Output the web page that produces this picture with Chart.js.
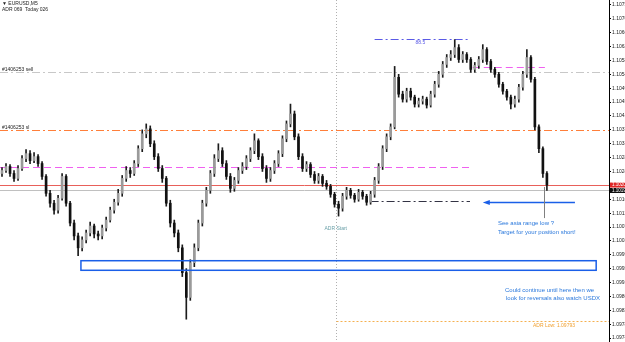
<!DOCTYPE html>
<html><head><meta charset="utf-8">
<script src="https://cdn.jsdelivr.net/npm/chart.js@4/dist/chart.umd.min.js"></script>
<style>html,body{margin:0;padding:0;background:#fff;}#wrap{width:625px;height:342px;}</style>
</head><body><div id="wrap"><canvas id="c" width="625" height="342"></canvas></div>
<script>
const opens=[1.10240,1.10249,1.10261,1.10240,1.10225,1.10255,1.10285,1.10300,1.10279,1.10291,
1.10270,1.10231,1.10180,1.10150,1.10129,1.10165,1.10231,1.10150,1.10090,1.10051,
1.10015,1.10039,1.10060,1.10081,1.10057,1.10051,1.10075,1.10099,1.10129,1.10153,
1.10180,1.10225,1.10249,1.10240,1.10270,1.10315,1.10360,1.10375,1.10330,1.10291,
1.10255,1.10225,1.10150,1.10090,1.10060,1.10015,1.09940,1.09865,1.09970,1.10015,
1.10090,1.10150,1.10189,1.10240,1.10285,1.10309,1.10270,1.10231,1.10195,1.10219,
1.10249,1.10261,1.10285,1.10309,1.10339,1.10291,1.10255,1.10225,1.10249,1.10270,
1.10300,1.10345,1.10390,1.10420,1.10351,1.10291,1.10255,1.10267,1.10237,1.10219,
1.10231,1.10210,1.10201,1.10177,1.10147,1.10135,1.10171,1.10189,1.10174,1.10162,
1.10183,1.10171,1.10153,1.10177,1.10219,1.10261,1.10315,1.10351,1.10381,1.10531,
1.10480,1.10465,1.10489,1.10471,1.10450,1.10459,1.10465,1.10447,1.10480,1.10510,
1.10540,1.10570,1.10591,1.10600,1.10621,1.10585,1.10600,1.10585,1.10555,1.10567,
1.10585,1.10615,1.10579,1.10555,1.10540,1.10510,1.10489,1.10471,1.10450,1.10465,
1.10501,1.10540,1.10591,1.10525,1.10381,1.10315,1.10240];
const closes=[1.10249,1.10261,1.10240,1.10225,1.10255,1.10285,1.10300,1.10279,1.10291,1.10270,
1.10231,1.10180,1.10150,1.10129,1.10165,1.10231,1.10150,1.10090,1.10051,1.10015,
1.10039,1.10060,1.10081,1.10057,1.10051,1.10075,1.10099,1.10129,1.10153,1.10180,
1.10225,1.10249,1.10240,1.10270,1.10315,1.10360,1.10375,1.10330,1.10291,1.10255,
1.10225,1.10150,1.10090,1.10060,1.10015,1.09940,1.09865,1.09970,1.10015,1.10090,
1.10150,1.10189,1.10240,1.10285,1.10309,1.10270,1.10231,1.10195,1.10219,1.10249,
1.10261,1.10285,1.10309,1.10339,1.10291,1.10255,1.10225,1.10249,1.10270,1.10300,
1.10345,1.10390,1.10420,1.10351,1.10291,1.10255,1.10267,1.10237,1.10219,1.10231,
1.10210,1.10201,1.10177,1.10147,1.10135,1.10171,1.10189,1.10174,1.10162,1.10183,
1.10171,1.10153,1.10177,1.10219,1.10261,1.10315,1.10351,1.10381,1.10531,1.10480,
1.10465,1.10489,1.10471,1.10450,1.10459,1.10465,1.10447,1.10480,1.10510,1.10540,
1.10570,1.10591,1.10600,1.10621,1.10585,1.10600,1.10585,1.10555,1.10567,1.10585,
1.10615,1.10579,1.10555,1.10540,1.10510,1.10489,1.10471,1.10450,1.10465,1.10501,
1.10540,1.10591,1.10525,1.10381,1.10315,1.10240,1.10205];
const highs=[1.10258,1.10270,1.10267,1.10249,1.10264,1.10294,1.10312,1.10309,1.10303,1.10297,
1.10276,1.10237,1.10189,1.10159,1.10174,1.10240,1.10237,1.10156,1.10099,1.10060,
1.10048,1.10069,1.10093,1.10087,1.10066,1.10084,1.10108,1.10138,1.10162,1.10192,
1.10234,1.10261,1.10258,1.10279,1.10324,1.10372,1.10390,1.10384,1.10339,1.10300,
1.10264,1.10231,1.10159,1.10099,1.10069,1.10024,1.09952,1.09979,1.10027,1.10099,
1.10159,1.10198,1.10249,1.10297,1.10330,1.10318,1.10279,1.10240,1.10228,1.10258,
1.10273,1.10294,1.10318,1.10360,1.10345,1.10300,1.10264,1.10258,1.10279,1.10309,
1.10354,1.10399,1.10450,1.10429,1.10360,1.10300,1.10276,1.10273,1.10246,1.10240,
1.10237,1.10219,1.10207,1.10183,1.10156,1.10180,1.10198,1.10195,1.10180,1.10192,
1.10189,1.10177,1.10186,1.10228,1.10270,1.10324,1.10360,1.10390,1.10564,1.10540,
1.10489,1.10498,1.10498,1.10477,1.10468,1.10474,1.10471,1.10489,1.10519,1.10549,
1.10579,1.10600,1.10612,1.10645,1.10630,1.10609,1.10606,1.10591,1.10576,1.10594,
1.10630,1.10621,1.10585,1.10561,1.10546,1.10516,1.10495,1.10477,1.10474,1.10510,
1.10549,1.10615,1.10597,1.10531,1.10387,1.10321,1.10246];
const lows=[1.10231,1.10243,1.10231,1.10216,1.10219,1.10249,1.10276,1.10270,1.10273,1.10261,
1.10222,1.10171,1.10138,1.10117,1.10120,1.10159,1.10141,1.10081,1.10039,1.09991,
1.10006,1.10030,1.10051,1.10045,1.10039,1.10042,1.10066,1.10093,1.10120,1.10144,
1.10171,1.10216,1.10228,1.10234,1.10261,1.10306,1.10348,1.10321,1.10282,1.10246,
1.10213,1.10141,1.10078,1.10048,1.10003,1.09928,1.09799,1.09856,1.09958,1.10006,
1.10081,1.10141,1.10180,1.10231,1.10276,1.10261,1.10222,1.10183,1.10186,1.10210,
1.10240,1.10252,1.10276,1.10300,1.10282,1.10246,1.10213,1.10216,1.10240,1.10261,
1.10291,1.10336,1.10381,1.10342,1.10282,1.10246,1.10246,1.10228,1.10210,1.10210,
1.10201,1.10192,1.10168,1.10138,1.10111,1.10126,1.10162,1.10165,1.10153,1.10156,
1.10162,1.10144,1.10147,1.10168,1.10210,1.10252,1.10306,1.10342,1.10375,1.10471,
1.10456,1.10456,1.10462,1.10441,1.10441,1.10450,1.10438,1.10441,1.10471,1.10501,
1.10531,1.10561,1.10582,1.10591,1.10576,1.10576,1.10576,1.10546,1.10546,1.10558,
1.10576,1.10570,1.10546,1.10531,1.10501,1.10480,1.10462,1.10435,1.10441,1.10456,
1.10492,1.10531,1.10516,1.10372,1.10303,1.10228,1.10189];
const tickValues=[1.10750,1.10708,1.10666,1.10624,1.10582,1.10540,1.10498,1.10456,1.10414,1.10372,
1.10330,1.10288,1.10246,1.10204,1.10162,1.10120,1.10078,1.10036,1.09994,1.09952,
1.09910,1.09868,1.09826,1.09784,1.09742];
const slotCount=152;
const categories=Array.from({length:slotCount},(_,i)=>String(i));
// levels (prices)
const sellLevel=1.10547, slLevel=1.10371, magentaLow=1.10260, magentaHigh=1.10562;
const askLevel=1.10190, rangeHigh=1.10647, rangeLow=1.10157;
const boxTop=1.09976, boxBottom=1.09947, arrowLevel=1.10154;
const pointerTop=1.10199, pointerBottom=1.10105, adrLow=1.09793;
const bidLevel=closes[closes.length-1];
// bar indices
const adrStartBar=83.3, asiaStartBar=92, asiaEndBar=116.8, boxStartBar=19.7, boxEndBar=148.3;
const arrowFromBar=143, arrowToBar=120, pointerBar=135.3, magenta2Start=117.5, magenta2End=135.5;

const FONT="'Liberation Sans', Arial, sans-serif";
const overlay={id:'overlay',
 beforeDatasetsDraw(chart){
  const {ctx,chartArea:a,scales:{x,y}}=chart;
  const X=i=>x.getPixelForValue(i), Y=p=>Math.round(y.getPixelForValue(p))+0.5;
  function hl(p,x0,x1,c,d,w){ctx.save();ctx.strokeStyle=c;ctx.lineWidth=w||1;ctx.setLineDash(d||[]);ctx.beginPath();ctx.moveTo(x0,Y(p));ctx.lineTo(x1,Y(p));ctx.stroke();ctx.restore();}
  hl(sellLevel,a.left,a.right,'#c8c8c8',[8,3,2,3]);
  hl(slLevel,a.left,a.right,'#ff7f3a',[8,3,2,3]);
  hl(magentaLow,a.left,X(asiaEndBar),'#f060f0',[7,4]);
  hl(magentaHigh,X(magenta2Start),X(magenta2End),'#f060f0',[7,4]);
  hl(rangeHigh,X(asiaStartBar+1),X(asiaEndBar),'#5a5ae6',[8,3,2,3]);
  hl(rangeLow,X(asiaStartBar),X(asiaEndBar),'#333344',[8,3,2,3]);
  hl(askLevel,a.left,a.right,'#c0c0c0',[]);
  hl(bidLevel,a.left,a.right,'#e8605a',[]);
  // ADR start vertical
  ctx.save();ctx.strokeStyle='#b0b0b0';ctx.setLineDash([1,2]);ctx.beginPath();
  const xa=Math.round(X(adrStartBar))+0.5;ctx.moveTo(xa,a.top);ctx.lineTo(xa,a.bottom);ctx.stroke();ctx.restore();
  ctx.save();ctx.strokeStyle='#f5b050';ctx.setLineDash([2,2]);ctx.beginPath();
  ctx.moveTo(xa,Y(adrLow));ctx.lineTo(a.right,Y(adrLow));ctx.stroke();ctx.restore();
 },
 afterDatasetsDraw(chart){
  const {ctx,chartArea:a,scales:{x,y}}=chart;
  const X=i=>x.getPixelForValue(i), Y=p=>y.getPixelForValue(p);
  ctx.save();
  // blue rectangle
  ctx.strokeStyle='#1a5fe8';ctx.lineWidth=1.5;
  const rx=X(boxStartBar), rw=X(boxEndBar)-rx, ry=Y(boxTop), rh=Y(boxBottom)-ry;
  ctx.strokeRect(rx,ry,rw,rh);
  // arrow
  const ay=Math.round(Y(arrowLevel))+0.5, ax1=X(arrowFromBar), ax0=X(arrowToBar);
  ctx.lineWidth=1.5;ctx.beginPath();ctx.moveTo(ax1,ay);ctx.lineTo(ax0+4,ay);ctx.stroke();
  ctx.fillStyle='#1a5fe8';ctx.beginPath();ctx.moveTo(ax0,ay);ctx.lineTo(ax0+7,ay-2.5);ctx.lineTo(ax0+7,ay+2.5);ctx.closePath();ctx.fill();
  // pointer vertical
  ctx.strokeStyle='#808080';ctx.lineWidth=1;ctx.beginPath();
  const px=Math.round(X(pointerBar))+0.5;ctx.moveTo(px,Y(pointerTop));ctx.lineTo(px,Y(pointerBottom));ctx.stroke();
  // texts
  ctx.textBaseline='middle';ctx.textAlign='left';
  ctx.font='5px '+FONT;ctx.fillStyle='#222';
  ctx.fillText('\u25BC EURUSD,M5',2,4);
  ctx.fillText('ADR 069  Today 026',2,10);
  ctx.textBaseline='alphabetic';
  ctx.fillText('#1406253 sell',2,Y(sellLevel)-1);
  ctx.fillText('#1406253 sl',2,Y(slLevel)-1);
  ctx.textBaseline='middle';
  ctx.fillStyle='#5a5ae6';ctx.textAlign='center';
  ctx.fillText('88.5',X((asiaStartBar+asiaEndBar)/2),Y(rangeHigh)+4);
  ctx.fillStyle='#6aa0a8';
  ctx.fillText('ADR Start',X(adrStartBar),229);
  ctx.textAlign='left';ctx.fillStyle='#f0a030';
  ctx.fillText('ADR Low: '+adrLow.toFixed(5),533,Y(adrLow)+4);
  ctx.font='6px '+FONT;ctx.fillStyle='#2a78dc';
  ctx.fillText('See asia range low ?',498,223);
  ctx.fillText('Target for your position short!',498,232);
  ctx.fillText('Could continue until here then we',505,290);
  ctx.fillText('look for reversals also watch USDX',506,298);
  // price boxes on axis
  const by=Y(bidLevel), ky=Y(askLevel);
  ctx.fillStyle='#111';ctx.fillRect(a.right+1,ky-2,20,5);
  ctx.fillStyle='#e02828';ctx.fillRect(a.right+1,by-2.5,20,5);
  ctx.font='4.5px '+FONT;ctx.fillStyle='#fff';
  ctx.fillText(askLevel.toFixed(5),a.right+3,ky+1);
  ctx.fillText(bidLevel.toFixed(5),a.right+3,by);
  ctx.restore();
 }
};

new Chart(document.getElementById('c'),{
 type:'bar',
 data:{labels:categories,datasets:[
  {label:'wick',data:lows.map((l,i)=>[l,highs[i]]),backgroundColor:'#1c1c1c',barThickness:1,grouped:false,order:2},
  {label:'body',data:opens.map((o,i)=>[o,closes[i]]),backgroundColor:closes.map((c,i)=>c>=opens[i]?'#9a9a9a':'#111111'),barThickness:2,minBarLength:1,grouped:false,order:1}
 ]},
 options:{responsive:false,animation:false,events:[],
  layout:{padding:0},
  plugins:{legend:{display:false},tooltip:{enabled:false}},
  scales:{
   x:{display:false},
   y:{position:'right',min:1.09730,max:1.10765,
    afterBuildTicks:s=>{s.ticks=tickValues.map(v=>({value:v}));},
    afterFit:s=>{s.width=16;s.paddingTop=0;s.paddingBottom=0;},
    border:{color:'#000'},
    grid:{drawOnChartArea:false,drawTicks:true,tickLength:2,color:'#000'},
    ticks:{padding:1,color:'#222',font:{size:5,family:FONT},callback:v=>Number(v).toFixed(5)}}
  }
 },
 plugins:[overlay]
});
</script></body></html>
